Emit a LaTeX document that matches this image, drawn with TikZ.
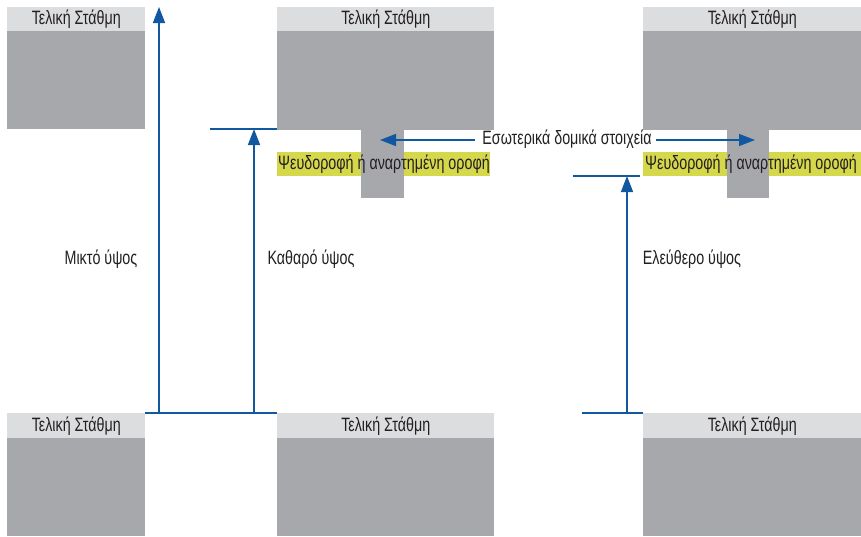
\documentclass[tikz,border=0pt]{standalone}
\usepackage{fontspec}
\setmainfont{Liberation Sans}[FakeStretch=0.74]
\usetikzlibrary{arrows.meta}
\definecolor{hdr}{RGB}{220,221,223}
\definecolor{blk}{RGB}{167,168,172}
\definecolor{yel}{RGB}{214,216,76}
\definecolor{arr}{RGB}{18,88,160}
\definecolor{txt}{RGB}{35,31,32}
\tikzset{
  blockbody/.style={fill=blk, draw=none},
  header/.style={fill=hdr, draw=none, inner sep=0pt, font=\fontsize{14.5}{16}\selectfont, text=txt},
  stem/.style={fill=blk, draw=none},
  lbl/.style={inner sep=0pt, font=\fontsize{14.5}{16}\selectfont, text=txt},
  dim/.style={draw=arr, line width=1.2pt},
  dimarrow/.style={draw=arr, line width=1.2pt, -{Triangle[length=12pt,width=9pt]}},
}
\begin{document}
\begin{tikzpicture}[x=0.75pt,y=-0.75pt]
\useasboundingbox (0,0) rectangle (861,536);
% top blocks
\fill[blockbody] (7,7) rectangle (145,129);
\node[header, minimum width=138*0.75pt, minimum height=24*0.75pt, anchor=north west] (tlh) at (7,7) {Τελική Στάθμη};
\fill[blockbody] (277,7) rectangle (494,130);
\node[header, minimum width=217*0.75pt, minimum height=24*0.75pt, anchor=north west] (tmh) at (277,7) {Τελική Στάθμη};
\fill[blockbody] (643,7) rectangle (861,130);
\node[header, minimum width=218*0.75pt, minimum height=24*0.75pt, anchor=north west] (trh) at (643,7) {Τελική Στάθμη};
% bottom blocks
\fill[blockbody] (7,413) rectangle (145,536);
\node[header, minimum width=138*0.75pt, minimum height=25*0.75pt, anchor=north west] (blh) at (7,413) {Τελική Στάθμη};
\fill[blockbody] (277,413) rectangle (494,536);
\node[header, minimum width=217*0.75pt, minimum height=25*0.75pt, anchor=north west] (bmh) at (277,413) {Τελική Στάθμη};
\fill[blockbody] (643,413) rectangle (861,536);
\node[header, minimum width=218*0.75pt, minimum height=25*0.75pt, anchor=north west] (brh) at (643,413) {Τελική Στάθμη};
% yellow highlights
\fill[yel] (277,152) rectangle (490,176);
\fill[yel] (643,152) rectangle (861,176);
% stems
\fill[stem] (361,129) rectangle (404,198);
\fill[stem] (727,129) rectangle (769,198);
% highlight texts
\node[lbl] (sl) at (384,164.5) {Ψευδοροφή ή αναρτημένη οροφή};
\node[lbl] (sr) at (751,164.5) {Ψευδοροφή ή αναρτημένη οροφή};
% coordinates
\coordinate (b1) at (145,413);
\coordinate (b2) at (277,413);
\coordinate (a1b) at (159,413);
\coordinate (a1t) at (159,7);
\coordinate (a2b) at (254,413);
\coordinate (a2t) at (254,129);
\coordinate (c1) at (210,129);
\coordinate (c2) at (277,129);
\coordinate (r1) at (582,413);
\coordinate (r2) at (643,413);
\coordinate (r3) at (573,176);
\coordinate (r4) at (640,176);
\coordinate (a3b) at (627,413);
\coordinate (a3t) at (627,176);
\coordinate (el1) at (475,140);
\coordinate (el2) at (380,140);
\coordinate (er1) at (656,140);
\coordinate (er2) at (755,140);
% lines
\draw[dim] (b1) -- (b2);
\draw[dim] (c1) -- (c2);
\draw[dim] (r1) -- (r2);
\draw[dim] (r3) -- (r4);
\draw[dimarrow] (a1b) -- (a1t);
\draw[dimarrow] (a2b) -- (a2t);
\draw[dimarrow] (a3b) -- (a3t);
\draw[dimarrow] (el1) -- (el2);
\draw[dimarrow] (er1) -- (er2);
% labels
\node[lbl] (es) at (567,139) {Εσωτερικά δομικά στοιχεία};
\node[lbl] (mik) at (101,259) {Μικτό ύψος};
\node[lbl] (kath) at (311,259) {Καθαρό ύψος};
\node[lbl] (ele) at (692,259) {Ελεύθερο ύψος};
\end{tikzpicture}
\end{document}
